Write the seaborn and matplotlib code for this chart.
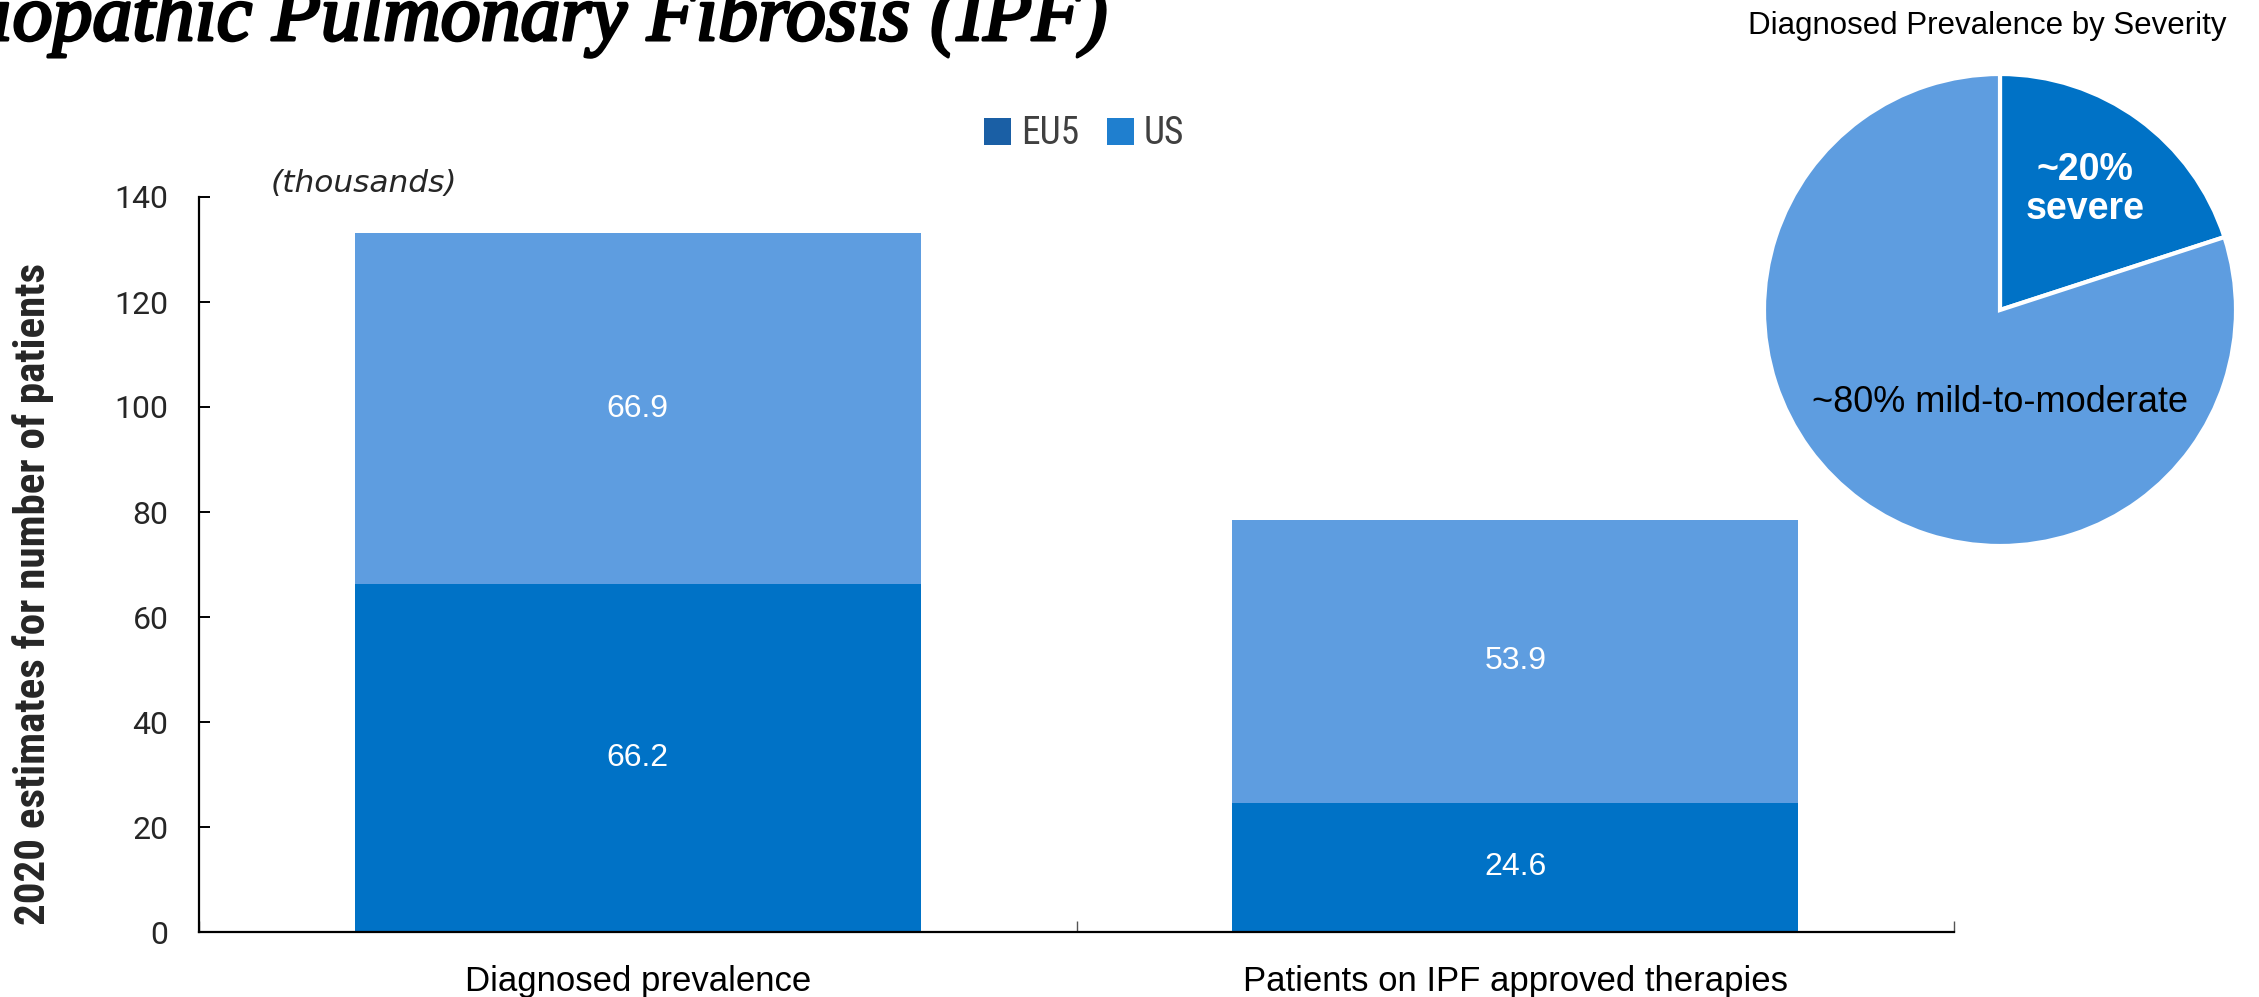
import matplotlib
matplotlib.use("Agg")
import matplotlib.pyplot as plt
from matplotlib import font_manager
from matplotlib.patches import Patch
from matplotlib.ticker import FixedLocator
import matplotlib.patheffects as pe
import seaborn as sns
import pandas as pd

# ---- data (thousands of patients, 2020 estimates) ----
categories = ["Diagnosed prevalence", "Patients on IPF approved therapies"]
eu5 = [66.2, 24.6]
us = [66.9, 53.9]
series_names = ["EU5", "US"]

severity_labels = ["~20%\nsevere", "~80% mild-to-moderate"]
severity_share = [20, 80]

y_ticks = [0, 20, 40, 60, 80, 100, 120, 140]

# ---- styling ----
DARK = "#0072C6"
LIGHT = "#5E9DE0"

sns.set_theme(style="white")
plt.rcParams["font.family"] = ["Liberation Sans", "DejaVu Sans"]

installed = {f.name for f in font_manager.fontManager.ttflist}
NARROW = next((n for n in ("Roboto Condensed", "Liberation Sans Narrow", "DejaVu Sans Condensed")
               if n in installed), "Liberation Sans")
narrow_scale = 1.0 if NARROW != "Liberation Sans" else 0.88

W, H = 2259, 997
fig = plt.figure(figsize=(W / 100, H / 100), dpi=100)
fig.patch.set_facecolor("white")

# main bar axes
ax = fig.add_axes([199 / W, 1 - 932 / H, (1954 - 199) / W, (932 - 197) / H])

df = pd.DataFrame({"category": categories, "EU5": eu5, "US": us})
df["total"] = df["EU5"] + df["US"]

sns.barplot(data=df, x="category", y="total", color=LIGHT, saturation=1,
            width=0.645, ax=ax, edgecolor="none")
sns.barplot(data=df, x="category", y="EU5", color=DARK, saturation=1,
            width=0.645, ax=ax, edgecolor="none")

ax.set_xlim(-0.5, len(categories) - 0.5)
ax.set_ylim(0, 140)
ax.set_yticks(y_ticks)
ax.set_xlabel("")
ax.set_ylabel("")

for side in ("top", "right"):
    ax.spines[side].set_visible(False)
for side in ("left", "bottom"):
    ax.spines[side].set_color("black")
    ax.spines[side].set_linewidth(1.6)

ax.tick_params(axis="y", direction="in", length=8, width=1.4, color="black",
               labelsize=23, pad=22, left=True)
for lbl in ax.get_yticklabels():
    lbl.set_fontfamily(["Roboto", "DejaVu Sans"])
ax.tick_params(axis="x", which="major", length=0, labelsize=25, pad=24,
               labelcolor="black")
ax.xaxis.set_minor_locator(FixedLocator([-0.5 + i for i in range(len(categories) + 1)]))
ax.tick_params(axis="x", which="minor", direction="in", length=8, width=1.0,
               color="#555555", bottom=True)

# segment value labels
for i, (b, t) in enumerate(zip(eu5, us)):
    ax.text(i, b / 2, f"{b:.1f}", ha="center", va="center", color="white", fontsize=23)
    ax.text(i, b + t / 2, f"{t:.1f}", ha="center", va="center", color="white", fontsize=23)

# axis annotations
fig.text(33 / W, 1 - 594 / H, "2020 estimates for number of patients",
         rotation=90, ha="center", va="center", fontsize=31 * narrow_scale,
         fontweight="bold", family=[NARROW, "Liberation Sans"])
fig.text(271 / W, 1 - 184 / H, "(thousands)", ha="left", va="center",
         fontsize=22.5, style="italic", family=["DejaVu Sans"])

# legend
handles = [Patch(facecolor="#1A5FA5", edgecolor="none"),
           Patch(facecolor="#1F7FCF", edgecolor="none")]
leg = fig.legend(handles, series_names, loc="center", bbox_to_anchor=(1084 / W, 1 - 134 / H),
                 ncol=2, frameon=False, handlelength=0.72, handleheight=0.72,
                 handletextpad=0.25, columnspacing=0.75,
                 prop={"family": [NARROW, "Liberation Sans"], "size": 27 * narrow_scale})
for txt in leg.get_texts():
    txt.set_color("#404040")

# page title, partly cut by the top edge
fig.text(1109 / W, 1 - 40 / H, "Idiopathic Pulmonary Fibrosis (IPF)", ha="right",
         va="baseline", fontsize=57.5, style="italic",
         family=["Liberation Serif"], color="black",
         path_effects=[pe.withStroke(linewidth=2.2, foreground="black")])

# severity pie
cx, cy, r = 2000, 310, 236
pax = fig.add_axes([(cx - r) / W, 1 - (cy + r) / H, 2 * r / W, 2 * r / H])
pax.pie(severity_share, colors=[DARK, LIGHT], startangle=90, counterclock=False,
        radius=1, wedgeprops={"edgecolor": "white", "linewidth": 3})
pax.set_xlim(-1, 1)
pax.set_ylim(-1, 1)
pax.set_aspect("equal")
pax.axis("off")
pax.text(0.36, 0.51, severity_labels[0], ha="center", va="center", color="white",
         fontsize=27, fontweight="bold", linespacing=1.1)
pax.text(0.0, -0.394, severity_labels[1], ha="center", va="center", color="black",
         fontsize=26)
fig.text(1987 / W, 1 - 26 / H, "Diagnosed Prevalence by Severity", ha="center",
         va="center", fontsize=22.5, color="black")

fig.savefig("out.png", dpi=100, facecolor="white")
